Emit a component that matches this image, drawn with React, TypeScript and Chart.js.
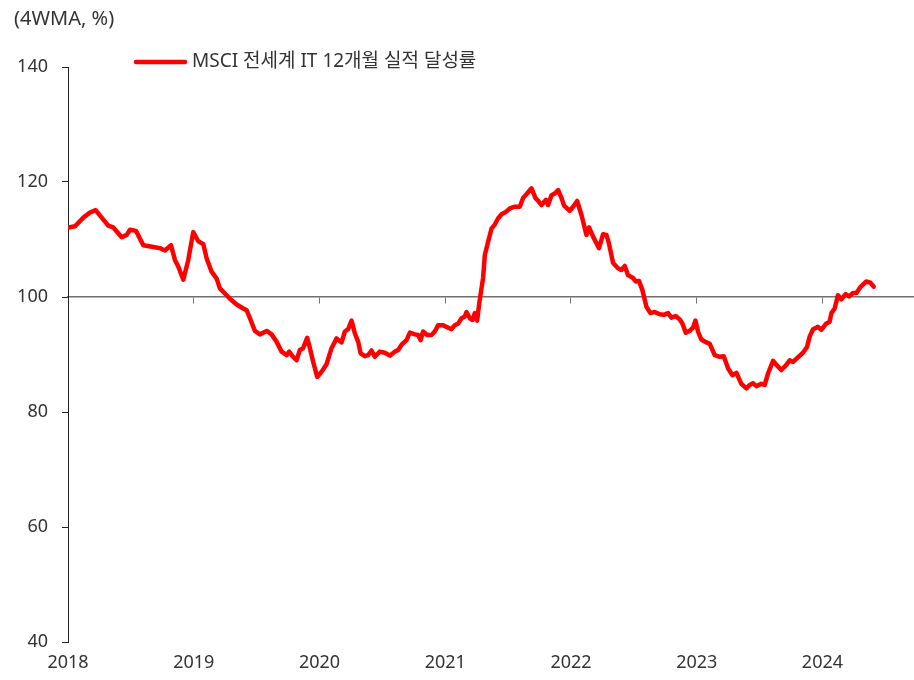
import React, { useEffect, useRef } from "react";
import { Chart, registerables } from "chart.js";

Chart.register(...registerables);

const SERIES_LABEL = "MSCI 전세계 IT 12개월 실적 달성률";
const UNIT_LABEL = "(4WMA, %)";

const YEAR_TICKS = [2018, 2019, 2020, 2021, 2022, 2023, 2024];
const X_MIN = 2018;
const X_MAX = 2024.72;
const Y_MIN = 40;
const Y_MAX = 140;
const Y_STEP = 20;
const BASELINE = 100;

const DATES = [
  2018.002, 2018.056, 2018.122, 2018.175, 2018.22, 2018.268, 2018.32, 2018.36, 2018.427, 2018.467,
  2018.493, 2018.541, 2018.599, 2018.678, 2018.731, 2018.771, 2018.819, 2018.851, 2018.877, 2018.917,
  2018.956, 2018.996, 2019.036, 2019.076, 2019.103, 2019.142, 2019.182, 2019.208, 2019.248, 2019.288,
  2019.341, 2019.394, 2019.421, 2019.447, 2019.486, 2019.526, 2019.58, 2019.619, 2019.659, 2019.699,
  2019.739, 2019.759, 2019.786, 2019.818, 2019.844, 2019.87, 2019.902, 2019.924, 2019.95, 2019.982,
  2020.017, 2020.056, 2020.096, 2020.136, 2020.176, 2020.202, 2020.228, 2020.255, 2020.281, 2020.308,
  2020.327, 2020.361, 2020.387, 2020.414, 2020.44, 2020.48, 2020.52, 2020.56, 2020.599, 2020.626,
  2020.653, 2020.692, 2020.719, 2020.758, 2020.785, 2020.804, 2020.824, 2020.856, 2020.891, 2020.917,
  2020.944, 2020.983, 2021.01, 2021.05, 2021.076, 2021.103, 2021.13, 2021.156, 2021.169, 2021.196,
  2021.217, 2021.235, 2021.254, 2021.271, 2021.301, 2021.315, 2021.341, 2021.368, 2021.394, 2021.421,
  2021.448, 2021.482, 2021.514, 2021.553, 2021.593, 2021.619, 2021.651, 2021.686, 2021.718, 2021.744,
  2021.766, 2021.8, 2021.818, 2021.845, 2021.871, 2021.898, 2021.925, 2021.945, 2021.99, 2022.017,
  2022.049, 2022.083, 2022.123, 2022.144, 2022.176, 2022.223, 2022.255, 2022.282, 2022.3, 2022.335,
  2022.374, 2022.401, 2022.428, 2022.454, 2022.494, 2022.515, 2022.541, 2022.568, 2022.6, 2022.632,
  2022.666, 2022.706, 2022.738, 2022.772, 2022.799, 2022.833, 2022.865, 2022.886, 2022.913, 2022.944,
  2022.971, 2022.99, 2023.01, 2023.037, 2023.077, 2023.103, 2023.143, 2023.183, 2023.215, 2023.249,
  2023.284, 2023.316, 2023.355, 2023.395, 2023.421, 2023.448, 2023.475, 2023.514, 2023.541, 2023.567,
  2023.607, 2023.634, 2023.673, 2023.713, 2023.739, 2023.766, 2023.805, 2023.845, 2023.877, 2023.898,
  2023.925, 2023.964, 2023.991, 2024.031, 2024.057, 2024.071, 2024.097, 2024.123, 2024.15, 2024.184,
  2024.211, 2024.243, 2024.27, 2024.301, 2024.349, 2024.381, 2024.407,
];

const VALUES = [
  112.1, 112.3, 113.8, 114.7, 115.1, 113.8, 112.4, 112.1, 110.4, 110.8,
  111.7, 111.5, 109.0, 108.7, 108.5, 108.1, 109.0, 106.4, 105.3, 103.0,
  106.4, 111.3, 109.7, 109.2, 106.7, 104.4, 103.2, 101.5, 100.6, 99.7,
  98.7, 98.0, 97.7, 96.3, 94.1, 93.5, 94.1, 93.5, 92.2, 90.5,
  89.9, 90.5, 89.7, 89.0, 90.8, 91.1, 92.9, 91.1, 88.7, 86.1,
  87.0, 88.3, 91.1, 92.8, 92.1, 94.0, 94.4, 95.9, 93.7, 92.2,
  90.2, 89.7, 89.9, 90.7, 89.6, 90.5, 90.3, 89.8, 90.5, 90.8,
  91.7, 92.5, 93.8, 93.5, 93.4, 92.5, 94.0, 93.4, 93.4, 94.0,
  95.1, 95.1, 94.8, 94.4, 95.1, 95.4, 96.3, 96.6, 97.4, 96.3,
  96.0, 97.2, 95.9, 99.0, 103.3, 107.3, 109.6, 111.9, 112.6, 113.7,
  114.4, 114.8, 115.4, 115.7, 115.7, 117.2, 118.0, 118.9, 117.2, 116.6,
  116.0, 116.9, 116.0, 117.7, 118.0, 118.6, 117.2, 115.9, 115.0, 115.7,
  116.7, 114.3, 110.8, 112.1, 110.5, 108.5, 110.9, 110.8, 109.5, 105.9,
  105.0, 104.7, 105.4, 103.8, 103.3, 102.7, 102.8, 101.2, 98.3, 97.2,
  97.4, 97.0, 96.9, 97.2, 96.4, 96.7, 96.1, 95.4, 93.8, 94.1,
  94.7, 95.9, 94.0, 92.6, 92.1, 91.9, 89.9, 89.6, 89.7, 87.6,
  86.4, 86.8, 84.9, 84.1, 84.7, 85.0, 84.5, 84.9, 84.7, 86.7,
  88.9, 88.2, 87.3, 88.2, 89.0, 88.7, 89.5, 90.3, 91.3, 93.1,
  94.4, 94.8, 94.3, 95.4, 95.7, 97.2, 98.0, 100.3, 99.6, 100.5,
  100.1, 100.7, 100.7, 101.7, 102.7, 102.5, 101.8,
];

const FONT_FAMILY = '"Noto Sans", "Noto Sans CJK KR", sans-serif';
const TEXT_COLOR = "#333333";

const headerPlugin = {
  id: "headerPlugin",
  afterDraw(chart: any) {
    const ctx = chart.ctx;
    const ds = chart.data.datasets[0];
    ctx.save();
    ctx.fillStyle = TEXT_COLOR;
    ctx.textAlign = "left";
    ctx.textBaseline = "middle";
    ctx.font = `20px ${FONT_FAMILY}`;
    ctx.fillText(UNIT_LABEL, 14, 19);
    ctx.strokeStyle = ds.borderColor;
    ctx.lineWidth = 4.5;
    ctx.lineCap = "round";
    ctx.beginPath();
    ctx.moveTo(136, 62);
    ctx.lineTo(185, 62);
    ctx.stroke();
    ctx.font = `19px ${FONT_FAMILY}`;
    ctx.fillText(ds.label, 192, 62);
    ctx.restore();
  },
};

export default function App() {
  const canvasRef = useRef<HTMLCanvasElement | null>(null);

  useEffect(() => {
    if (!canvasRef.current) return;
    const yearTicks = (scale: any) => {
      scale.ticks = YEAR_TICKS.map((v) => ({ value: v }));
    };
    const chart = new Chart(canvasRef.current, {
      type: "line",
      data: {
        datasets: [
          {
            label: SERIES_LABEL,
            data: DATES.map((d, i) => ({ x: d, y: VALUES[i] })),
            borderColor: "#ff0000",
            borderWidth: 4.5,
            pointRadius: 0,
            tension: 0,
            borderJoinStyle: "round",
            borderCapStyle: "round",
          },
        ],
      },
      options: {
        animation: false,
        responsive: false,
        maintainAspectRatio: false,
        layout: { padding: { top: 67, right: 1, left: 0, bottom: 0 } },
        plugins: {
          legend: { display: false },
          title: { display: false },
          tooltip: { enabled: false },
        },
        scales: {
          x: {
            type: "linear",
            position: "bottom",
            min: X_MIN,
            max: X_MAX,
            afterBuildTicks: yearTicks,
            afterFit: (s: any) => {
              s.height = 38;
            },
            ticks: {
              callback: (v: any) => String(v),
              font: { size: 18, family: FONT_FAMILY },
              color: TEXT_COLOR,
              padding: 10,
              maxRotation: 0,
              autoSkip: false,
            },
            grid: { display: false, drawTicks: false },
            border: { display: false },
          },
          xBase: {
            type: "linear",
            position: { y: BASELINE },
            min: X_MIN,
            max: X_MAX,
            afterBuildTicks: yearTicks,
            ticks: { display: false },
            grid: {
              drawOnChartArea: false,
              drawTicks: true,
              tickLength: 6,
              color: "#707070",
              lineWidth: 1,
            },
            border: { display: true, color: "#707070", width: 1.5 },
          },
          y: {
            type: "linear",
            min: Y_MIN,
            max: Y_MAX,
            afterFit: (s: any) => {
              s.width = 68;
            },
            ticks: {
              stepSize: Y_STEP,
              font: { size: 18, family: FONT_FAMILY },
              color: TEXT_COLOR,
              padding: 14,
            },
            grid: {
              drawOnChartArea: false,
              drawTicks: true,
              tickLength: 6,
              color: "#222222",
              lineWidth: 1,
            },
            border: { display: true, color: "#222222", width: 1 },
          },
        },
      } as any,
      plugins: [headerPlugin],
    });
    return () => chart.destroy();
  }, []);

  return (
    <div style={{ position: "absolute", left: 0, top: 0, width: 914, height: 680 }}>
      <canvas ref={canvasRef} width={914} height={680} style={{ display: "block" }} />
    </div>
  );
}
